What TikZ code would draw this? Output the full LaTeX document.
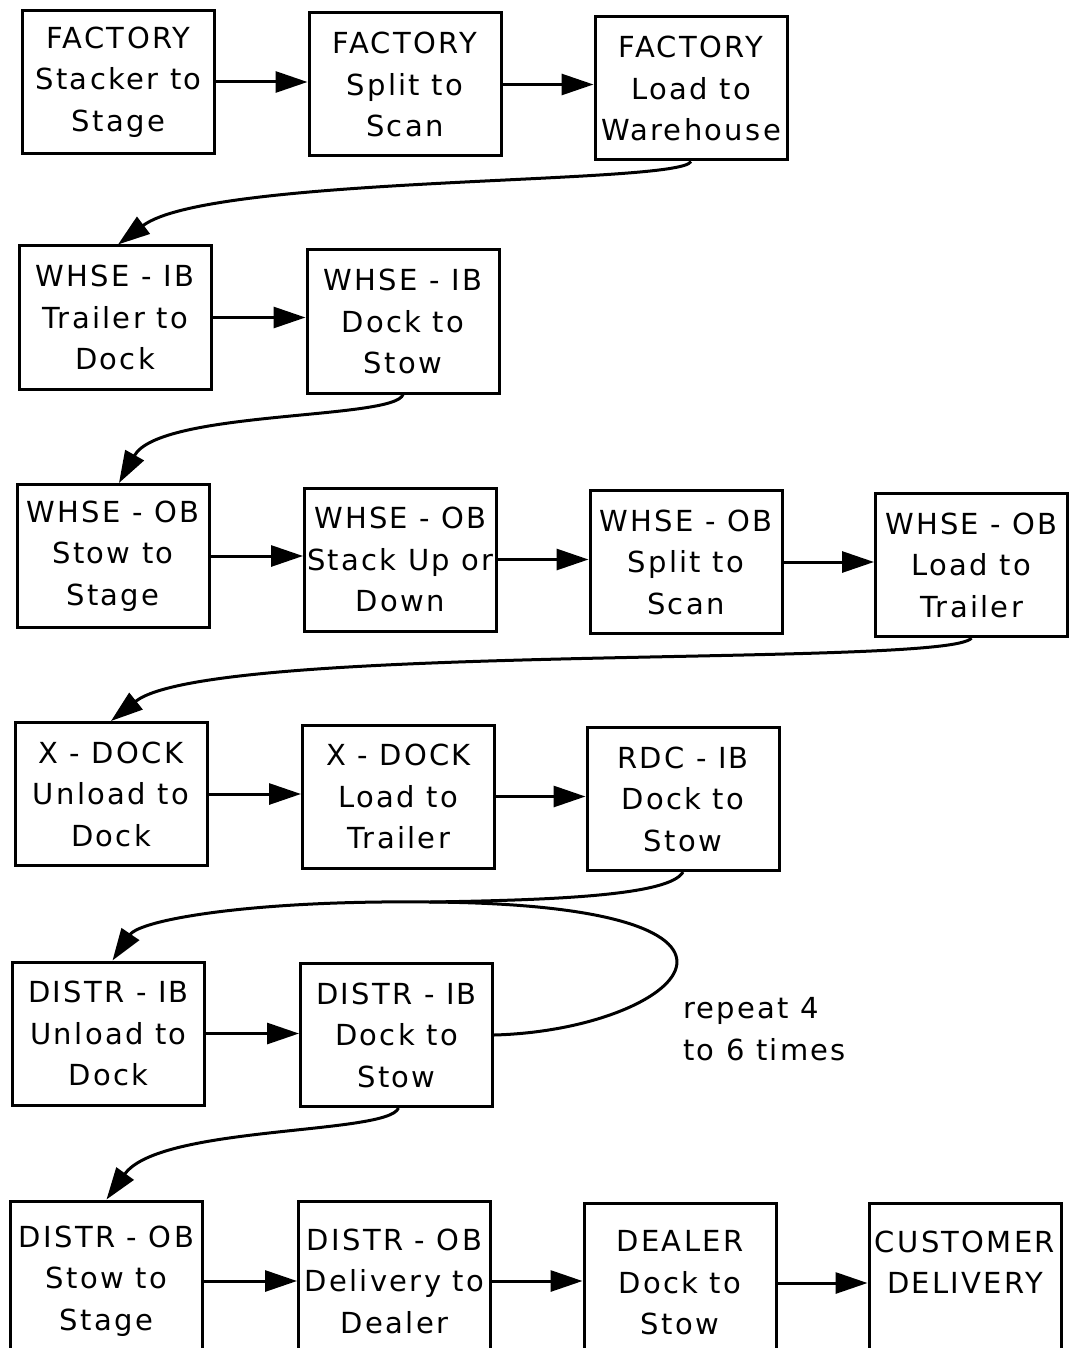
\documentclass[tikz,border=0pt]{standalone}
\usepackage{fontspec}
\setmainfont{DejaVu Sans}[LetterSpace=8]
\usetikzlibrary{arrows.meta}
\begin{document}
\begin{tikzpicture}[x=1pt,y=-1pt,
  stage/.style={draw, line width=3pt, rectangle, inner sep=0pt, minimum width=192pt, minimum height=143pt,
    align=center, font=\fontsize{29}{41.5}\selectfont},
  lastrow/.style={stage, minimum height=160pt},
  flow/.style={line width=3pt, -{Triangle[length=32pt,width=21pt]}},
  note/.style={align=left, font=\fontsize{29}{41.5}\selectfont, inner sep=0pt}]
\useasboundingbox (0,0) rectangle (1069,1348);
\clip (0,0) rectangle (1069,1348);
% row 1
\node[stage] (b1) at (118.5,82) {FACTORY\\Stacker to\\Stage};
\node[stage] (b2) at (405,84.5) {FACTORY\\Split to\\Scan};
\node[stage] (b3) at (691,88.5) {FACTORY\\Load to\\Warehouse};
% row 2
\node[stage] (b4) at (115,317.5) {WHSE - IB\\Trailer to\\Dock};
\node[stage] (b5) at (403,321.5) {WHSE - IB\\Dock to\\Stow};
% row 3
\node[stage] (b6) at (113,556) {WHSE - OB\\Stow to\\Stage};
\node[stage] (b7) at (400.5,559.5) {WHSE - OB\\Stack Up or\\Down};
\node[stage] (b8) at (686,562) {WHSE - OB\\Split to\\Scan};
\node[stage] (b9) at (971.5,565) {WHSE - OB\\Load to\\Trailer};
% row 4
\node[stage] (b10) at (111,794) {X - DOCK\\Unload to\\Dock};
\node[stage] (b11) at (398.5,796.5) {X - DOCK\\Load to\\Trailer};
\node[stage] (b12) at (683,799) {RDC - IB\\Dock to\\Stow};
% row 5
\node[stage] (b13) at (108.5,1033.5) {DISTR - IB\\Unload to\\Dock};
\node[stage] (b14) at (396.5,1035) {DISTR - IB\\Dock to\\Stow};
% row 6
\node[lastrow] (b15) at (106.5,1281) {DISTR - OB\\Stow to\\Stage};
\node[lastrow] (b16) at (394.5,1281) {DISTR - OB\\Delivery to\\Dealer};
\node[lastrow] (b17) at (680,1283) {DEALER\\Dock to\\Stow};
\node[lastrow] (b18) at (965,1283) {CUSTOMER\\DELIVERY\\~};
\node[note, anchor=west] (rep) at (683,1029) {repeat 4\\to 6 times};
% straight arrows
\draw[flow] (b1.east) -- (b1.east -| b2.west);
\draw[flow] (b2.east) -- (b2.east -| b3.west);
\draw[flow] (b4.east) -- (b4.east -| b5.west);
\draw[flow] (b6.east) -- (b6.east -| b7.west);
\draw[flow] (b7.east) -- (b7.east -| b8.west);
\draw[flow] (b8.east) -- (b8.east -| b9.west);
\draw[flow] (b10.east) -- (b10.east -| b11.west);
\draw[flow] (b11.east) -- (b11.east -| b12.west);
\draw[flow] (b13.east) -- (b13.east -| b14.west);
\draw[flow] (b15.east) -- (b15.east -| b16.west);
\draw[flow] (b16.east) -- (b16.east -| b17.west);
\draw[flow] (b17.east) -- (b17.east -| b18.west);
% curved arrows
\draw[flow] (b3.south) .. controls (680,185) and (210,175) .. ([xshift=3pt]b4.north);
\draw[flow] (b5.south) .. controls (395,420) and (160,410) .. ([xshift=6pt]b6.north);
\draw[flow] (b9.south) .. controls (950,668) and (210,642) .. (b10.north);
\coordinate (top) at (430,902);
\draw[line width=3pt] (b14.east) .. controls (680,1030) and (815,905) .. (top);
\draw[line width=3pt] (b12.south) .. controls (670,895) and (560,900) .. (top);
\draw[flow] (top) .. controls (250,900) and (140,920) .. ([xshift=4pt]b13.north);
\draw[flow] ([xshift=2pt]b14.south) .. controls (388,1135) and (160,1125) .. (b15.north);
\end{tikzpicture}
\end{document}
